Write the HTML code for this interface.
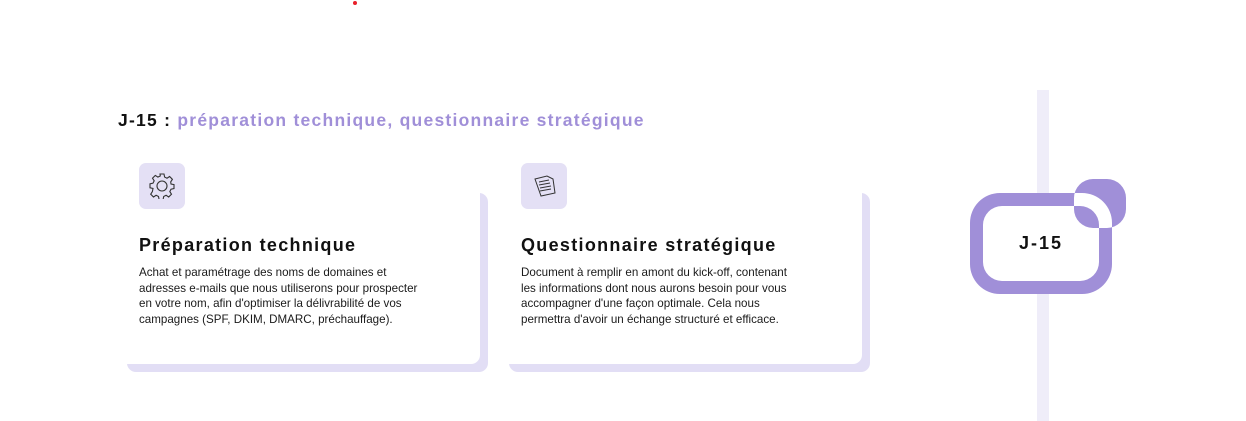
<!DOCTYPE html>
<html><head><meta charset="utf-8"><style>
body{margin:0;width:1246px;height:421px;background:#fff;position:relative;overflow:hidden;font-family:"Liberation Sans",sans-serif;color:#111}
.a{position:absolute}
.sh{background:#e2def5;border-radius:9px}
.wc{background:#fff;border-radius:9px}
.ic{background:#e4e0f5;border-radius:7px;width:46px;height:46px}
.t{font-size:18px;font-weight:bold;letter-spacing:1.3px;white-space:nowrap}
.p{font-size:11.6px;line-height:15.6px;white-space:nowrap;color:#1a1a1a}
</style></head><body>
<div class="a" style="left:353px;top:1px;width:4px;height:4px;border-radius:2px;background:#e8202a"></div>
<div class="a t" style="left:118px;top:110px;font-size:17.5px;letter-spacing:1.25px">J-15 : <span style="color:#a08fd8">préparation technique, questionnaire stratégique</span></div>

<div class="a sh" style="left:127px;top:193px;width:361px;height:179px"></div>
<div class="a wc" style="left:112px;top:180px;width:368px;height:184px"></div>
<div class="a ic" style="left:139px;top:163px"></div>
<svg class="a" style="left:149px;top:173px" width="26" height="26" viewBox="0 0 26 26" fill="none" stroke="#333" stroke-width="1.1">
<path d="M11 3h4l.6 3 2.4 1.2 2.6-1.7 2.8 2.8-1.7 2.6L22 13l3 .6v4l-3 .6-1.2 2.4 1.7 2.6-2.8 2.8-2.6-1.7-2.4 1.2-.6 3h-4l-.6-3-2.4-1.2-2.6 1.7-2.8-2.8 1.7-2.6L4 17.4l-3-.6v-4l3-.6 1.2-2.4L3.5 7.2l2.8-2.8 2.6 1.7 2.4-1.2z" transform="translate(0,-2) scale(1)"/>
<circle cx="13" cy="13" r="5"/></svg>
<div class="a t" style="left:139px;top:235px">Préparation technique</div>
<div class="a p" style="left:139px;top:265px">Achat et paramétrage des noms de domaines et<br>adresses e-mails que nous utiliserons pour prospecter<br>en votre nom, afin d'optimiser la délivrabilité de vos<br>campagnes (SPF, DKIM, DMARC, préchauffage).</div>

<div class="a sh" style="left:509px;top:193px;width:361px;height:179px"></div>
<div class="a wc" style="left:494px;top:180px;width:368px;height:184px"></div>
<div class="a ic" style="left:521px;top:163px"></div>
<svg class="a" style="left:532px;top:173px" width="26" height="26" viewBox="0 0 26 26" fill="none" stroke="#333" stroke-width="1">
<path d="M3 6l12-3 6 3 2 14-14 3z"/><path d="M7 9l10-2M7 12l11-2M8 15l11-2M8 18l11-2"/></svg>
<div class="a t" style="left:521px;top:235px">Questionnaire stratégique</div>
<div class="a p" style="left:521px;top:265px">Document à remplir en amont du kick-off, contenant<br>les informations dont nous aurons besoin pour vous<br>accompagner d'une façon optimale. Cela nous<br>permettra d'avoir un échange structuré et efficace.</div>

<div class="a" style="left:1037px;top:90px;width:12px;height:331px;background:#efedf9"></div>
<svg class="a" style="left:960px;top:170px" width="180" height="135">
<rect x="10" y="23" width="142" height="101" rx="30" fill="#fff"/>
<path fill-rule="evenodd" fill="#a08fd8" d="M40 23h82a30 30 0 0 1 30 30v41a30 30 0 0 1-30 30h-82a30 30 0 0 1-30-30v-41a30 30 0 0 1 30-30z M42 36h78a19 19 0 0 1 19 19v37a19 19 0 0 1-19 19h-78a19 19 0 0 1-19-19v-37a19 19 0 0 1 19-19z M133 9h14a19 19 0 0 1 19 19v11a19 19 0 0 1-19 19h-14a19 19 0 0 1-19-19v-11a19 19 0 0 1 19-19z"/>
</svg>
<div class="a t" style="left:1019px;top:233px;font-size:18px;letter-spacing:2px">J-15</div>
</body></html>
